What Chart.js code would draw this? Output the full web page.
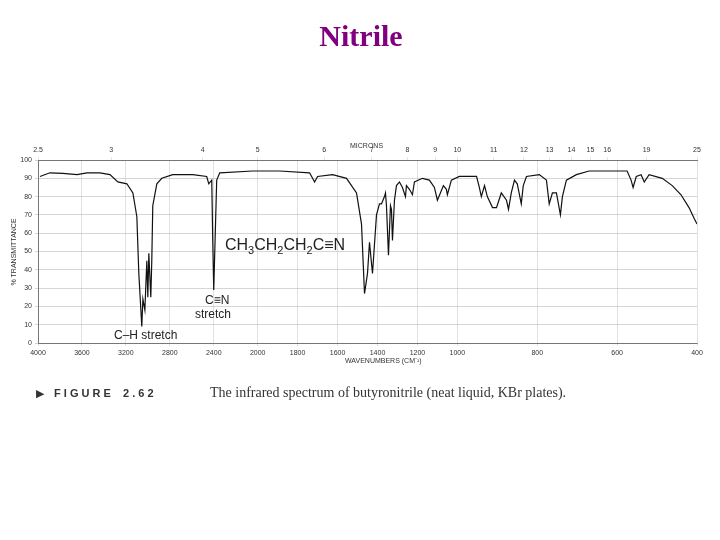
<!DOCTYPE html>
<html>
<head>
<meta charset="utf-8">
<script src="https://cdn.jsdelivr.net/npm/chart.js@4"></script>
<style>
  html, body { margin: 0; padding: 0; background: #fff; }
  #wrap { width: 720px; height: 540px; }
</style>
</head>
<body>
<div id="wrap"><canvas id="irChart" width="720" height="540"></canvas></div>
<script>
// spectrum: wavenumber (cm-1) and % transmittance
const wavenumbers = [3982, 3891, 3773, 3645, 3555, 3436, 3345, 3273, 3191, 3136, 3100, 3082, 3055, 3045, 3027, 3009, 3000, 2991, 2973, 2964, 2955, 2918, 2873, 2773, 2591, 2464, 2445, 2418, 2409, 2400, 2373, 2345, 2045,
  1890, 1740, 1725, 1715, 1700, 1625, 1555, 1505, 1480, 1465, 1450, 1440, 1425, 1405, 1390, 1380, 1365, 1360, 1355, 1345, 1335, 1330, 1325, 1315, 1305, 1290, 1275, 1260, 1255, 1240, 1225, 1215, 1175, 1140, 1115, 1100, 1085, 1070, 1055, 1050, 1030,
  995, 952, 945, 940, 932, 925, 912, 902, 890, 877, 872, 865, 857, 850, 840, 835, 827, 795, 777, 770, 762, 752, 742, 737, 727, 702, 670, 602, 575, 565, 560, 552, 540, 532, 520, 487, 462, 440, 420, 407, 400];
const transmittance = [91, 93, 92.7, 92, 93, 93, 92, 88, 87, 82, 69, 38, 9, 24, 18, 45, 25, 49, 25, 45, 75, 87, 90, 92, 92, 91, 87, 89, 56, 29, 89, 93, 94,
  94, 93, 90, 88, 91, 92, 90, 82, 65, 27, 38, 55, 38, 70, 76, 76, 80, 82, 75, 48, 75, 73, 56, 78, 86, 88, 85, 80, 86, 84, 81, 88, 90, 89, 85, 78, 82, 86, 84, 81, 89,
  91, 91, 85, 80, 86, 80, 74, 74, 82, 78, 73, 82, 89, 87, 76, 86, 91, 92, 89, 76, 82, 82, 70, 80, 89, 92, 94, 94, 94, 89, 85, 91, 92, 88, 92, 90, 86, 81, 74, 68, 65];
const wavenumberTicks = [4000, 3600, 3200, 2800, 2400, 2000, 1800, 1600, 1400, 1200, 1000, 800, 600, 400];
const micronTicks = [2.5, 3, 4, 5, 6, 7, 8, 9, 10, 11, 12, 13, 14, 15, 16, 19, 25];
const transmittanceTicks = [0, 10, 20, 30, 40, 50, 60, 70, 80, 90, 100];

// the chart paper changes scale at 2000 and 1000 cm-1
function toPos(wn) {
  if (wn >= 2000) return (4000 - wn) * 0.11;
  if (wn >= 1000) return 220 + (2000 - wn) * 0.2;
  return 420 + (1000 - wn) * 0.4;
}
function fromPos(u) {
  if (u <= 220) return 4000 - u / 0.11;
  if (u <= 420) return 2000 - (u - 220) / 0.2;
  return 1000 - (u - 420) / 0.4;
}

const points = wavenumbers.map((w, i) => ({ x: toPos(w), y: transmittance[i] }));
const tickFont = { family: 'Liberation Sans', size: 7 };

const textPlugin = {
  id: 'figureText',
  afterDraw(chart) {
    const ctx = chart.ctx;
    ctx.save();
    ctx.fillStyle = '#800080';
    ctx.font = 'bold 30px "Liberation Serif"';
    ctx.textAlign = 'center';
    ctx.textBaseline = 'middle';
    ctx.fillText('Nitrile', 361, 38);

    ctx.fillStyle = '#333';
    ctx.textAlign = 'left';
    ctx.font = '7px "Liberation Sans"';
    ctx.fillText('MICRONS', 350, 146);
    ctx.fillText('WAVENUMBERS (CM\u207B\u00B9)', 345, 361);
    ctx.save();
    ctx.translate(14, 252);
    ctx.rotate(-Math.PI / 2);
    ctx.textAlign = 'center';
    ctx.fillText('% TRANSMITTANCE', 0, 0);
    ctx.restore();

    // formula with subscripts
    ctx.fillStyle = '#222';
    ctx.textBaseline = 'alphabetic';
    let x = 225;
    const parts = [['CH', 0], ['3', 1], ['CH', 0], ['2', 1], ['CH', 0], ['2', 1], ['C\u2261N', 0]];
    parts.forEach(([t, sub]) => {
      ctx.font = (sub ? '11px' : '16px') + ' "Liberation Sans"';
      ctx.fillText(t, x, sub ? 254 : 250);
      x += ctx.measureText(t).width;
    });
    ctx.font = '12px "Liberation Sans"';
    ctx.fillText('C\u2261N', 205, 304);
    ctx.fillText('stretch', 195, 318);
    ctx.fillText('C\u2013H stretch', 114, 339);

    // caption
    ctx.fillStyle = '#333';
    ctx.font = '11px "Liberation Sans"';
    ctx.fillText('\u25B6', 36, 397);
    ctx.font = 'bold 11px "Liberation Sans"';
    ctx.fillText('F I G U R E    2 . 6 2', 54, 397);
    ctx.font = '14px "Liberation Serif"';
    ctx.fillText('The infrared spectrum of butyronitrile (neat liquid, KBr plates).', 210, 397);
    ctx.restore();
  }
};

new Chart(document.getElementById('irChart'), {
  type: 'line',
  data: {
    datasets: [{
      data: points,
      borderColor: '#111',
      borderWidth: 1.2,
      pointRadius: 0,
      tension: 0
    }]
  },
  options: {
    responsive: false,
    animation: false,
    layout: { padding: { left: 20, right: 23, top: 140, bottom: 177 } },
    plugins: { legend: { display: false }, tooltip: { enabled: false } },
    scales: {
      x: {
        type: 'linear', min: 0, max: 660,
        afterBuildTicks: s => { s.ticks = wavenumberTicks.map(w => ({ value: toPos(w) })); },
        afterFit: s => { s.height = 20; },
        ticks: { font: tickFont, color: '#333', maxRotation: 0, autoSkip: false,
          callback: v => Math.round(fromPos(v)) },
        grid: { color: '#ccc', lineWidth: 0.6, tickLength: 3 },
        border: { color: '#777' }
      },
      x2: {
        type: 'linear', position: 'top', min: 0, max: 660,
        afterBuildTicks: s => { s.ticks = micronTicks.map(m => ({ value: toPos(10000 / m) })); },
        afterFit: s => { s.height = 20; },
        ticks: { font: tickFont, color: '#333', maxRotation: 0, autoSkip: false,
          callback: v => { const m = 10000 / fromPos(v); return Math.round(m * 10) / 10; } },
        grid: { drawOnChartArea: false, tickLength: 3 },
        border: { color: '#777' }
      },
      y: {
        min: 0, max: 100,
        afterBuildTicks: s => { s.ticks = transmittanceTicks.map(v => ({ value: v })); },
        afterFit: s => { s.width = 18; },
        ticks: { font: tickFont, color: '#333', autoSkip: false },
        grid: { color: '#bbb', lineWidth: 0.6, tickLength: 3 },
        border: { color: '#777' }
      }
    }
  },
  plugins: [textPlugin]
});
</script>
</body>
</html>
